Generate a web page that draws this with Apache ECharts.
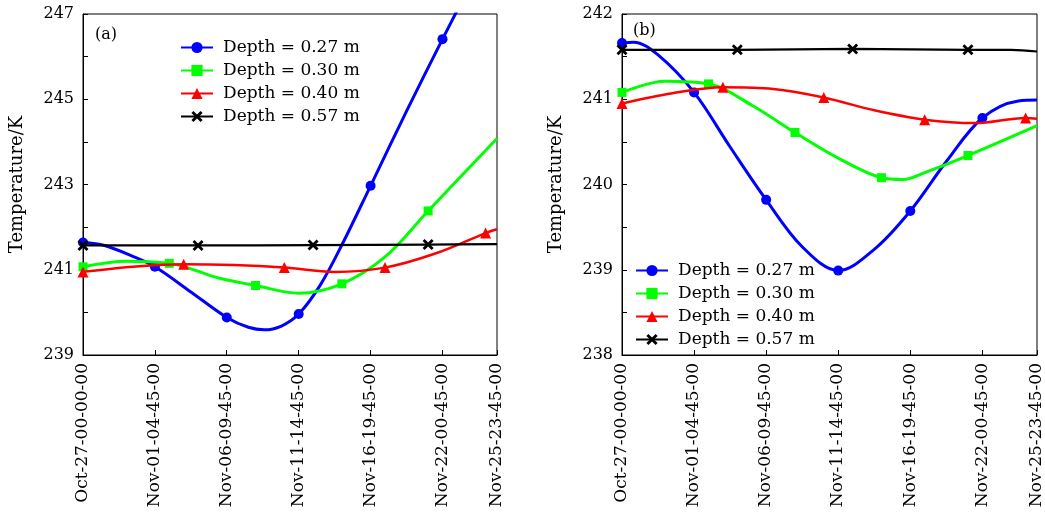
<!DOCTYPE html>
<html>
<head>
<meta charset="utf-8">
<script src="https://cdn.jsdelivr.net/npm/echarts@6/dist/echarts.min.js"></script>
<style>html,body{margin:0;padding:0;background:#fff}#c{width:1045px;height:512px}</style>
</head>
<body>
<div id="c"></div>
<script>
// x positions are 15-minute step indices from Oct-27-00-00-00
const xTickIdx = [0, 499, 999, 1499, 1999, 2499, 2879];
const xTickLabels = ['Oct-27-00-00-00', 'Nov-01-04-45-00', 'Nov-06-09-45-00', 'Nov-11-14-45-00', 'Nov-16-19-45-00', 'Nov-22-00-45-00', 'Nov-25-23-45-00'];
const seriesNames = ['Depth = 0.27 m', 'Depth = 0.30 m', 'Depth = 0.40 m', 'Depth = 0.57 m'];

// marker positions (step indices) per depth
const marks027 = [0, 500, 1000, 1500, 2000, 2500];
const marks030 = [0, 600, 1200, 1800, 2400];
const marks040 = [0, 700, 1400, 2100, 2800];
const marks057 = [0, 800, 1600, 2400];

// panel (a)
const a027 = [[0,241.64],[150,241.57],[350,241.31],[500,241.07],[750,240.48],[1000,239.88],[1150,239.65],[1260,239.59],[1380,239.68],[1500,239.96],[1650,240.64],[1800,241.58],[2000,242.97],[2250,244.72],[2500,246.41],[2879,248.9]];
const a030 = [[0,241.07],[300,241.2],[600,241.15],[750,241.02],[950,240.8],[1200,240.63],[1500,240.45],[1800,240.67],[2100,241.3],[2400,242.38],[2879,244.08]];
const a040 = [[0,240.95],[350,241.07],[700,241.13],[1050,241.11],[1400,241.05],[1750,240.95],[2100,241.05],[2450,241.38],[2800,241.86],[2879,241.95]];
const a057 = [[0,241.57],[800,241.57],[1600,241.58],[2400,241.59],[2879,241.6]];

// panel (b)
const b027 = [[0,241.66],[80,241.67],[250,241.52],[500,241.08],[750,240.44],[1000,239.82],[1250,239.27],[1500,238.99],[1750,239.24],[2000,239.69],[2250,240.27],[2500,240.78],[2750,240.98],[2879,240.99]];
const b030 = [[0,241.08],[300,241.21],[600,241.18],[900,240.93],[1200,240.61],[1500,240.31],[1800,240.08],[1950,240.06],[2100,240.14],[2400,240.34],[2879,240.69]];
const b040 = [[0,240.95],[350,241.07],[700,241.14],[1050,241.12],[1400,241.02],[1750,240.87],[2100,240.76],[2450,240.72],[2800,240.78],[2879,240.77]];
const b057 = [[0,241.58],[800,241.58],[1600,241.59],[2400,241.58],[2700,241.58],[2879,241.56]];

const FONT = 'DejaVu Serif';
const xSym = 'path://M0,1.8L1.8,0L5,3.2L8.2,0L10,1.8L6.8,5L10,8.2L8.2,10L5,6.8L1.8,10L0,8.2L3.2,5Z';
const styles = [
  {color:'#0000ff', symbol:'circle', size:10, width:3},
  {color:'#00ff00', symbol:'rect', size:9, width:3},
  {color:'#ff0000', symbol:'triangle', size:11, width:2.5},
  {color:'#000000', symbol:xSym, size:11, width:2.2}
];

function mk(arr, marks, idx, gi) {
  const s = styles[idx];
  return {
    name: seriesNames[idx], type: 'line', xAxisIndex: gi, yAxisIndex: gi,
    smooth: 0.35, clip: true, symbol: s.symbol, symbolSize: s.size,
    lineStyle: {color: s.color, width: s.width},
    itemStyle: {color: s.color},
    emphasis: {disabled: true},
    z: 2 + idx,
    data: arr.map(p => marks.indexOf(p[0]) >= 0 ? {value: p} : {value: p, symbol: 'none'})
  };
}

function xAxis(gi) {
  return {
    type: 'value', gridIndex: gi, min: 0, max: 2879,
    axisLine: {show: true, lineStyle: {color: '#000', width: 1}},
    axisTick: {show: true, inside: true, length: 5, customValues: xTickIdx, lineStyle: {color: '#000'}},
    axisLabel: {show: true, rotate: 90, margin: 8, customValues: xTickIdx, color: '#000', fontFamily: FONT, fontSize: 17,
      formatter: v => { const i = xTickIdx.indexOf(Math.round(v)); return i >= 0 ? xTickLabels[i] : ''; }},
    splitLine: {show: false}
  };
}
function yAxis(gi, min, max, interval, labelFn) {
  return {
    type: 'value', gridIndex: gi, min: min, max: max, interval: interval,
    name: 'Temperature/K', nameLocation: 'middle', nameRotate: 90, nameGap: 57,
    nameTextStyle: {color: '#000', fontFamily: FONT, fontSize: 18},
    axisLine: {show: true, lineStyle: {color: '#000', width: 1}},
    axisTick: {show: true, inside: true, length: 5, lineStyle: {color: '#000'}},
    axisLabel: {show: true, margin: 9, color: '#000', fontFamily: FONT, fontSize: 16, formatter: labelFn,
      showMinLabel: true, showMaxLabel: true},
    splitLine: {show: false}
  };
}
function legend(left, top) {
  return {
    data: seriesNames, left: left, top: top, orient: 'vertical', padding: 0,
    itemWidth: 32, itemHeight: 14, itemGap: 6, selectedMode: false,
    textStyle: {color: '#000', fontFamily: FONT, fontSize: 17, lineHeight: 17, padding: [0, 0, 0, 5]},
    backgroundColor: 'transparent'
  };
}

const chart = echarts.init(document.getElementById('c'), null, {renderer: 'canvas'});
chart.setOption({
  animation: false,
  backgroundColor: '#fff',
  grid: [
    {left: 83, top: 14, width: 414, height: 341, show: true, borderColor: '#000', borderWidth: 1, containLabel: false, outerBoundsMode: 'none'},
    {left: 622, top: 14, width: 415, height: 341, show: true, borderColor: '#000', borderWidth: 1, containLabel: false, outerBoundsMode: 'none'}
  ],
  xAxis: [xAxis(0), xAxis(1)],
  yAxis: [
    yAxis(0, 239, 247, 1, v => ((Math.round(v) - 239) % 2 === 0 ? String(Math.round(v)) : '')),
    yAxis(1, 238, 242, 0.5, v => (Math.abs(v - Math.round(v)) < 1e-6 ? String(Math.round(v)) : ''))
  ],
  legend: [legend(180, 39), legend(635, 262)],
  graphic: [
    {type: 'text', left: 95, top: 27, style: {text: '(a)', fill: '#000', font: '16px "DejaVu Serif"'}},
    {type: 'text', left: 633, top: 23, style: {text: '(b)', fill: '#000', font: '16px "DejaVu Serif"'}}
  ],
  series: [
    mk(a027, marks027, 0, 0), mk(a030, marks030, 1, 0), mk(a040, marks040, 2, 0), mk(a057, marks057, 3, 0),
    mk(b027, marks027, 0, 1), mk(b030, marks030, 1, 1), mk(b040, marks040, 2, 1), mk(b057, marks057, 3, 1)
  ]
});
</script>
</body>
</html>
